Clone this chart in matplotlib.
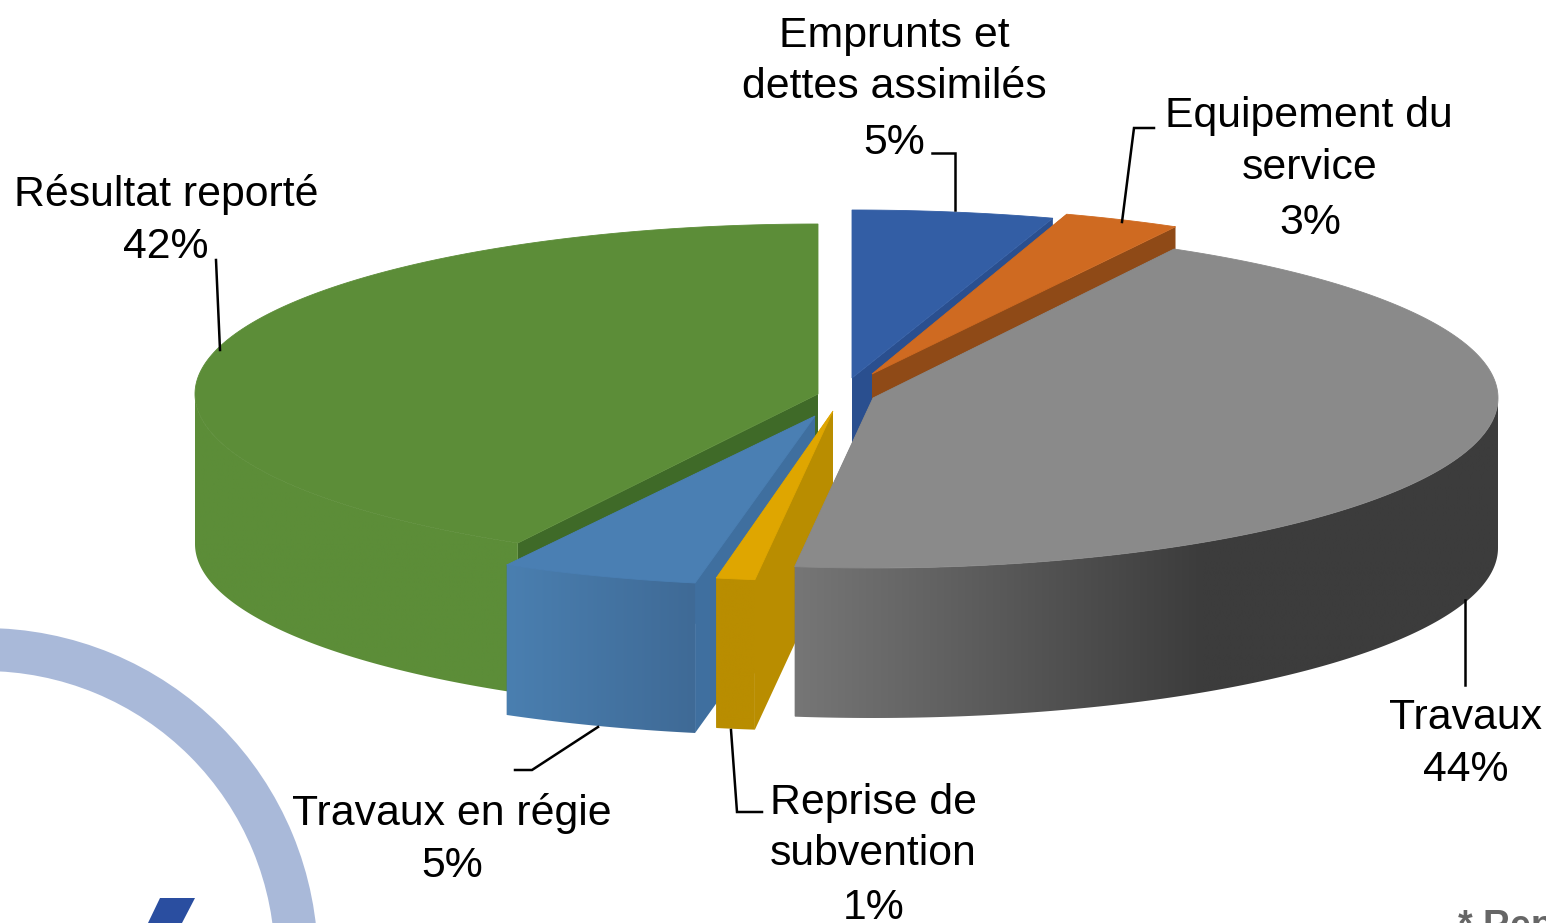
import numpy as np
import matplotlib
matplotlib.use("Agg")
import matplotlib.pyplot as plt
from matplotlib.colors import to_rgb
from matplotlib.patches import Wedge, Polygon

plt.rcParams["font.family"] = ["Liberation Sans", "DejaVu Sans"]

# Data, clockwise from 12 o'clock
categories = ["Emprunts et dettes assimilés", "Equipement du service", "Travaux",
              "Reprise de subvention", "Travaux en régie", "Résultat reporté"]
percents = [5, 3, 44, 1, 5, 42]

# Fake 3D pie settings: centre of each exploded slice, in pixels
centers = [(852, 378), (872, 374), (873, 398), (833, 411), (815, 416), (818, 394)]
radius_x = [650, 630, 625, 623, 640, 623]
radius_y = [168, 168, 170, 170, 170, 170]
depth = 150

top_colors = ["#335ea5", "#cf6a21", "#8a8a8a", "#dfa600", "#4a7fb3", "#5c8d38"]
face_colors = ["#2a4f8f", "#8f4a17", "#6e6e6e", "#b98d00", "#3f6f9f", "#3f6a28"]
wall_left = ["#2a4f8f", "#8f4a17", "#767676", "#b98d00", "#4a7fb0", "#5c8d38"]
wall_right = ["#2a4f8f", "#8f4a17", "#3c3c3c", "#b98d00", "#3f6a96", "#5c8d38"]
# part of the wall width over which the shading runs
wall_ramp = [1, 1, 0.58, 1, 1, 1]

# back to front
draw_order = [5, 4, 3, 0, 1, 2]

W, H = 1546, 923
fig = plt.figure(figsize=(W / 100, H / 100), dpi=100)
ax = fig.add_axes([0, 0, 1, 1])

# logo behind the chart
ax.add_patch(Wedge((-16, 962), 334, 0, 360, width=43, fc="#a9b9d9", ec="none", zorder=0))
ax.add_patch(Polygon([(160, 898), (195, 898), (182, 923), (148, 923)], fc="#2a4ea0", ec="none", zorder=0))


def point(i, a):
    cx, cy = centers[i]
    return cx + radius_x[i] * np.sin(a), cy - radius_y[i] * np.cos(a)


edges = np.deg2rad(np.cumsum([0] + percents) * 3.6)

z = 1
for i in draw_order:
    a0, a1 = edges[i], edges[i + 1]
    cx, cy = centers[i]
    # radial faces
    for a in (a0, a1):
        px, py = point(i, a)
        ax.add_patch(Polygon([(cx, cy), (px, py), (px, py + depth), (cx, cy + depth)],
                             fc=face_colors[i], ec="none", zorder=z))
    # outer wall, front half only, as a gradient clipped to the wall shape
    lo, hi = max(a0, np.pi / 2), min(a1, 3 * np.pi / 2)
    if hi > lo:
        angles = np.linspace(lo, hi, 200)
        xs, ys = point(i, angles)
        outline = np.vstack([np.column_stack([xs, ys]),
                             np.column_stack([xs[::-1], ys[::-1] + depth])])
        wall = Polygon(outline, fc="none", ec="none", zorder=z)
        ax.add_patch(wall)
        t = np.clip(np.linspace(0, 1, 256) / wall_ramp[i], 0, 1)[None, :, None]
        grad = np.array(to_rgb(wall_left[i])) + (np.array(to_rgb(wall_right[i])) - np.array(to_rgb(wall_left[i]))) * t
        im = ax.imshow(grad, extent=(xs.min(), xs.max(), ys.max() + depth, ys.min()),
                       aspect="auto", interpolation="bilinear", zorder=z)
        im.set_clip_path(wall)
    # top, the thin edge hides the seam against the wall
    angles = np.linspace(a0, a1, 200)
    px, py = point(i, angles)
    ax.add_patch(Polygon(np.vstack([[(cx, cy)], np.column_stack([px, py])]),
                         fc=top_colors[i], ec=top_colors[i], lw=0.6, zorder=z))
    z += 1

# leader lines
leaders = [
    ([932, 955, 955], [153, 153, 210]),
    ([1154, 1134, 1122], [128, 128, 222]),
    ([216, 220], [260, 350]),
    ([1465, 1465], [600, 685]),
    ([515, 532, 598], [770, 770, 727]),
    ([731, 737, 762], [730, 812, 812]),
]
for xs, ys in leaders:
    ax.plot(xs, ys, color="black", lw=1.8, solid_joinstyle="miter", zorder=20)

# labels, one line at a time
label_lines = [
    ("Emprunts et", 894, 47),
    ("dettes assimilés", 894, 98),
    ("5%", 894, 154),
    ("Equipement du", 1309, 127),
    ("service", 1310, 179),
    ("3%", 1310, 234),
    ("Résultat reporté", 166, 206),
    ("42%", 166, 258),
    ("Travaux", 1466, 729),
    ("44%", 1466, 781),
    ("Travaux en régie", 452, 825),
    ("5%", 452, 877),
    ("Reprise de", 873, 814),
    ("subvention", 873, 865),
    ("1%", 874, 919),
]
for txt, x, y in label_lines:
    ax.text(x, y, txt, ha="center", va="baseline", fontsize=30.8, color="black", zorder=21)

# footnote cut off by the picture edge, as in the source
ax.text(1458, 937, "* Rep", ha="left", va="baseline", fontsize=27, fontweight="bold", color="#666666", zorder=21)

ax.set_xlim(0, W)
ax.set_ylim(H, 0)
ax.axis("off")

fig.savefig("out.png", dpi=100)
